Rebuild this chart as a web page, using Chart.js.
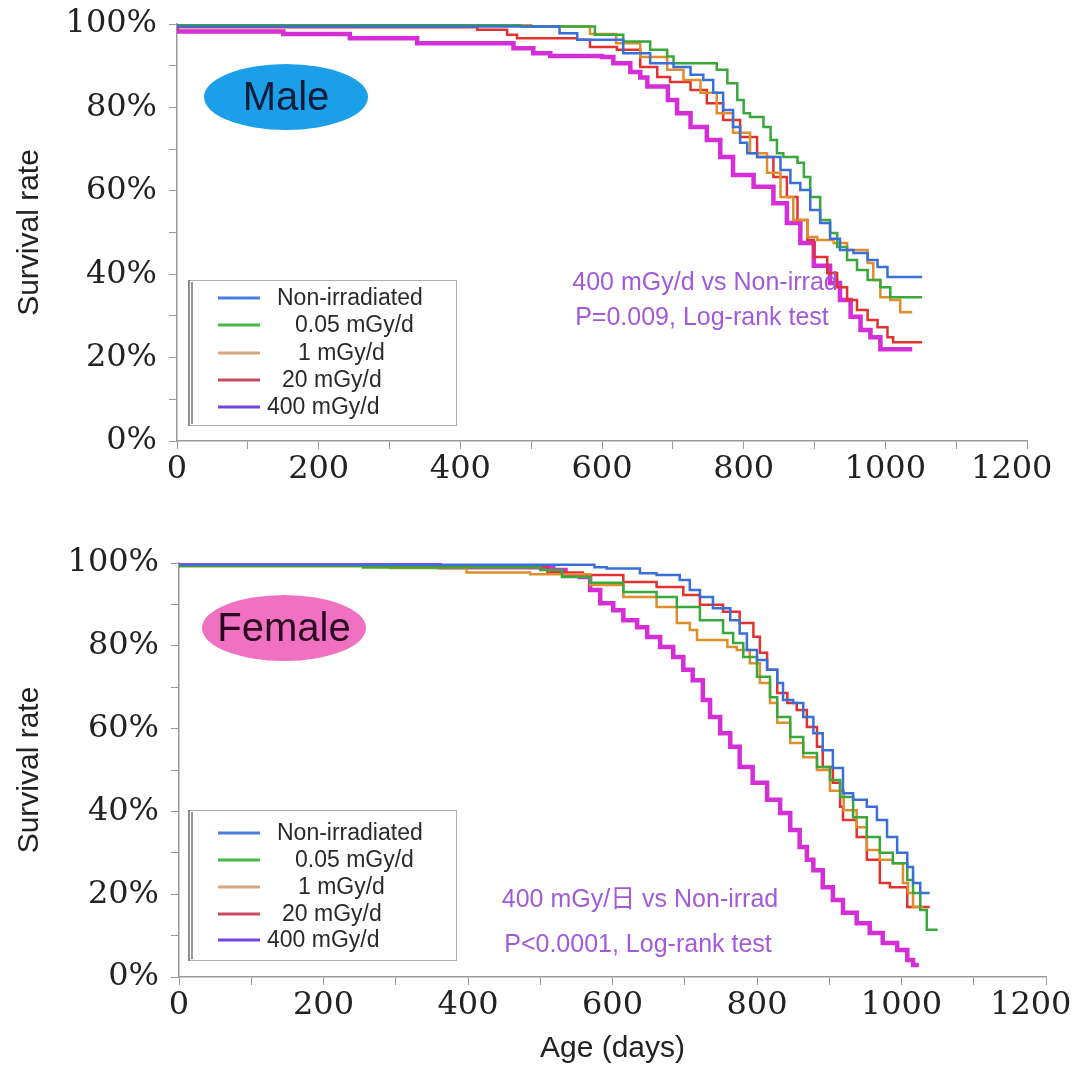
<!DOCTYPE html>
<html>
<head>
<meta charset="utf-8">
<script src="https://cdn.jsdelivr.net/npm/chart.js@4.4.0/dist/chart.umd.min.js"></script>
<style>
  html, body { margin: 0; padding: 0; background: #fff; }
  #wrap { position: relative; width: 1076px; height: 1072px; }
  .panel { position: absolute; left: 0; width: 1076px; height: 536px; }
</style>
</head>
<body>
<div id="wrap">
  <div class="panel" style="top:0"><canvas id="male" width="1076" height="536"></canvas></div>
  <div class="panel" style="top:536px"><canvas id="female" width="1076" height="536"></canvas></div>
</div>
<script>
// groups, in legend order
const groupNames = ['Non-irradiated', '0.05 mGy/d', '1 mGy/d', '20 mGy/d', '400 mGy/d'];

// axis ticks
const xTickValues = [0, 200, 400, 600, 800, 1000, 1200];
const xTickLabels = ['0', '200', '400', '600', '800', '1000', '1200'];
const yTickValues = [0, 20, 40, 60, 80, 100];
const yTickLabels = ['0%', '20%', '40%', '60%', '80%', '100%'];

// Kaplan-Meier steps: [age in days, survival %]
// male
const maleNonIrradiated = [[0,100],[540,99.4],[565,97.8],[630,96.2],[668,93.0],[701,90.6],[725,89.7],[743,87.8],[757,86.6],[771,83.5],[785,79.4],[795,75.3],[805,71.5],[819,69.0],[852,68.1],[866,65.0],[880,61.9],[894,60.2],[908,55.4],[922,52.3],[936,48.5],[955,45.8],[975,45.1],[989,43.4],[1003,41.7],[1014,39.3],[1052,39.3]];
const male005 = [[0,100],[485,99.7],[590,99.4],[630,97.4],[668,95.8],[692,93.8],[701,92.2],[762,90.6],[777,89.0],[791,85.8],[800,81.8],[809,78.6],[828,77.7],[838,75.3],[847,72.2],[856,69.0],[876,68.1],[885,66.7],[894,63.3],[908,58.5],[922,53.0],[932,49.9],[946,46.5],[960,43.4],[975,41.0],[993,38.6],[1007,36.9],[1014,34.5],[1052,34.5]];
const male1 = [[0,100],[500,99.7],[583,99.4],[620,97.6],[654,95.4],[692,92.1],[715,89.0],[739,86.6],[762,83.5],[785,78.6],[809,73.9],[833,69.0],[852,64.3],[870,58.5],[890,53.0],[904,48.9],[927,48.2],[946,47.5],[975,45.8],[983,42.7],[993,38.6],[1007,34.5],[1021,33.8],[1025,30.9],[1038,30.9]];
const male20 = [[0,100],[424,99.2],[466,98.6],[480,97.4],[565,96.6],[583,96.2],[621,94.5],[654,93.8],[678,89.7],[696,87.3],[725,86.1],[748,84.2],[771,81.0],[795,77.0],[819,72.9],[842,68.1],[861,63.3],[876,58.5],[890,53.0],[899,48.2],[918,44.1],[932,40.3],[946,36.9],[960,33.8],[975,31.4],[989,29.0],[1003,27.3],[1011,24.9],[1018,23.7],[1052,23.7]];
const male400 = [[0,100],[150,98.2],[244,97.6],[339,96.6],[475,95.4],[503,94.2],[527,93.0],[600,92.3],[616,92.1],[640,90.6],[654,88.5],[664,87.2],[693,85.0],[706,81.8],[725,78.6],[748,75.3],[767,72.2],[785,68.1],[814,63.8],[842,61.0],[861,57.0],[880,52.3],[899,47.5],[922,42.0],[936,37.9],[951,33.8],[965,29.8],[979,26.6],[993,24.9],[1003,22.0],[1038,22.0]];
// female
const femaleNonIrradiated = [[0,100],[575,99.6],[592,99.0],[638,98.7],[661,97.5],[693,97.1],[707,95.9],[721,93.5],[739,91.8],[763,89.1],[776,86.2],[786,83.0],[800,79.0],[814,76.6],[828,74.2],[836,71.0],[850,66.9],[864,66.2],[878,62.8],[891,58.9],[905,54.8],[919,50.5],[933,44.4],[952,42.8],[966,41.1],[980,37.9],[994,33.8],[1008,30.0],[1016,26.6],[1026,22.7],[1028,20.3],[1039,20.3]];
const female005 = [[0,100],[255,99.3],[500,98.9],[530,98.3],[569,96.6],[615,95.2],[661,93.0],[689,91.8],[721,89.4],[753,86.2],[767,83.1],[781,80.7],[800,77.3],[818,72.5],[828,67.6],[846,62.8],[864,58.0],[883,54.1],[901,50.7],[915,47.6],[933,43.5],[952,38.6],[970,33.8],[988,30.0],[1008,27.5],[1016,23.4],[1026,20.3],[1035,16.2],[1039,11.4],[1050,11.4]];
const female1 = [[0,100],[292,99.5],[398,98.8],[486,97.7],[569,97.3],[615,94.7],[661,91.8],[689,89.4],[707,85.5],[717,83.8],[759,81.4],[772,79.7],[790,79.0],[804,75.8],[818,71.0],[828,66.2],[846,61.4],[864,56.5],[883,53.1],[901,50.0],[920,45.0],[938,40.3],[952,36.2],[970,30.7],[988,28.3],[1002,27.5],[1009,22.7],[1016,20.3],[1021,16.9],[1030,16.9]];
const female20 = [[0,100],[510,99.3],[559,97.7],[615,97.1],[661,95.4],[698,94.2],[721,92.3],[753,89.9],[776,88.2],[795,85.5],[804,82.2],[814,78.3],[828,74.2],[842,68.6],[855,66.2],[869,64.5],[883,60.4],[891,55.6],[905,50.7],[915,46.9],[919,41.1],[938,37.9],[952,33.8],[970,28.3],[984,22.7],[1008,21.7],[1016,16.9],[1039,16.9]];
const female400 = [[0,100],[361,99.6],[518,99.0],[535,98.3],[555,97.3],[569,96.6],[583,93.5],[601,90.3],[615,88.6],[634,86.2],[648,84.5],[666,82.1],[684,79.7],[698,77.3],[711,74.2],[725,71.7],[735,66.9],[749,62.8],[763,58.9],[776,55.6],[794,50.7],[814,46.9],[832,42.8],[846,39.6],[859,35.5],[869,31.4],[878,28.3],[891,25.8],[905,21.7],[919,18.6],[938,15.5],[956,13.0],[974,10.6],[994,8.2],[1008,6.5],[1016,4.1],[1021,2.9],[1024,2.9]];

const lineColors = ['#3b6fd8', '#38a83a', '#e08d2e', '#e2322f', '#d42fd6'];
const legendColors = ['#4a7ce0', '#46b846', '#d9a67c', '#c64a60', '#7444e6'];
const legendTextX = [277, 295, 298, 282, 267];
const sansFont = '"Liberation Sans", Arial, "Noto Sans CJK JP", sans-serif';

const overlayPlugin = {
  id: 'overlay',
  afterDraw(chart, args, o) {
    const ctx = chart.ctx;
    ctx.save();
    // sex badge
    ctx.fillStyle = o.badgeColor;
    ctx.beginPath();
    ctx.ellipse(o.badgeX, o.badgeY, 82, 33, 0, 0, Math.PI * 2);
    ctx.fill();
    ctx.fillStyle = o.badgeTextColor;
    ctx.font = '40px ' + sansFont;
    ctx.textAlign = 'center';
    ctx.textBaseline = 'middle';
    ctx.fillText(o.badge, o.badgeX, o.badgeY + 2);

    // log-rank note
    ctx.fillStyle = '#a35ada';
    ctx.font = '25px ' + sansFont;
    o.note.forEach((t, i) => ctx.fillText(t, o.noteX[i], o.noteY[i]));

    // legend box
    const top = o.legendTop, bottom = o.legendBottom;
    ctx.fillStyle = '#fff';
    ctx.fillRect(188, top, 269, bottom - top);
    ctx.strokeStyle = '#b0b0b0';
    ctx.lineWidth = 1;
    ctx.strokeRect(188.5, top + 0.5, 268, bottom - top);
    ctx.strokeStyle = '#777';
    ctx.lineWidth = 1.5;
    ctx.beginPath();
    ctx.moveTo(189, top); ctx.lineTo(189, bottom + 1);
    ctx.moveTo(192, top + 2); ctx.lineTo(192, bottom - 1);
    ctx.stroke();
    ctx.font = '23px ' + sansFont;
    ctx.textAlign = 'left';
    groupNames.forEach((name, i) => {
      const y = o.legendRows[i];
      ctx.strokeStyle = legendColors[i];
      ctx.lineWidth = 3;
      ctx.beginPath();
      ctx.moveTo(218, y); ctx.lineTo(260, y);
      ctx.stroke();
      ctx.fillStyle = '#2a2a2a';
      ctx.fillText(name, legendTextX[i], y + 1);
    });
    ctx.restore();
  }
};

function makeChart(id, series, cfg) {
  const datasets = series.map((pts, i) => ({
    label: groupNames[i],
    data: pts,
    borderColor: lineColors[i],
    borderWidth: i === 4 ? 4.5 : 2.5,
    stepped: 'after',
    pointRadius: 0,
    fill: false
  }));
  return new Chart(document.getElementById(id), {
    type: 'line',
    data: { datasets },
    options: {
      responsive: false,
      animation: false,
      layout: { padding: { top: cfg.padTop, right: cfg.padRight, left: 0, bottom: 0 } },
      plugins: { legend: { display: false }, tooltip: { enabled: false }, overlay: cfg.overlay },
      scales: {
        x: {
          type: 'linear', min: 0, max: 1200,
          afterFit(s) { s.height = 95; s.paddingRight = 0; s.paddingLeft = 0; },
          border: { color: '#999', width: 1.5 },
          grid: { drawOnChartArea: false, tickLength: 8, color: '#999' },
          ticks: {
            stepSize: 100, autoSkip: false, maxRotation: 0, padding: 1, color: '#222',
            font: { family: 'DejaVu Serif', size: 32 },
            callback(v) {
              const i = xTickValues.indexOf(v);
              if (i < 0) return '';
              return i === xTickValues.length - 1 ? xTickLabels[i] + '\u00a0\u00a0\u00a0' : xTickLabels[i];
            }
          },
          title: {
            display: !!cfg.xTitle, text: cfg.xTitle || '', color: '#222',
            font: { family: sansFont, size: 30 }, padding: { top: 0, bottom: 5 }
          }
        },
        y: {
          min: 0, max: 100,
          afterFit(s) { s.width = cfg.yWidth; s.paddingTop = 0; s.paddingBottom = 0; },
          border: { color: '#999', width: 1.5 },
          grid: { drawOnChartArea: false, tickLength: 8, color: '#999' },
          ticks: {
            stepSize: 10, autoSkip: false, padding: 12, color: '#222',
            font: { family: 'DejaVu Serif', size: 32 },
            callback(v) {
              const i = yTickValues.indexOf(v);
              return i < 0 ? '' : yTickLabels[i];
            }
          },
          title: {
            display: true, text: 'Survival rate', color: '#222',
            font: { family: sansFont, size: 30 }, padding: { top: 12, bottom: 0 }
          }
        }
      }
    },
    plugins: [overlayPlugin]
  });
}

makeChart('male', [maleNonIrradiated, male005, male1, male20, male400], {
  padTop: 24, padRight: 49, yWidth: 177,
  overlay: {
    badge: 'Male', badgeX: 286, badgeY: 97, badgeColor: '#1a9fe8', badgeTextColor: '#0b1d3a',
    note: ['400 mGy/d vs Non-irrad', 'P=0.009, Log-rank test'], noteX: [705, 702], noteY: [283, 318],
    legendTop: 280, legendBottom: 425, legendRows: [298, 325, 353, 380, 407]
  }
});

makeChart('female', [femaleNonIrradiated, female005, female1, female20, female400], {
  padTop: 27, padRight: 30, yWidth: 179, xTitle: 'Age (days)',
  overlay: {
    badge: 'Female', badgeX: 284, badgeY: 92, badgeColor: '#f070c2', badgeTextColor: '#2b0a22',
    note: ['400 mGy/日 vs Non-irrad', 'P<0.0001, Log-rank test'], noteX: [640, 638], noteY: [364, 409],
    legendTop: 274, legendBottom: 424, legendRows: [297, 324, 351, 378, 404]
  }
});
</script>
</body>
</html>
